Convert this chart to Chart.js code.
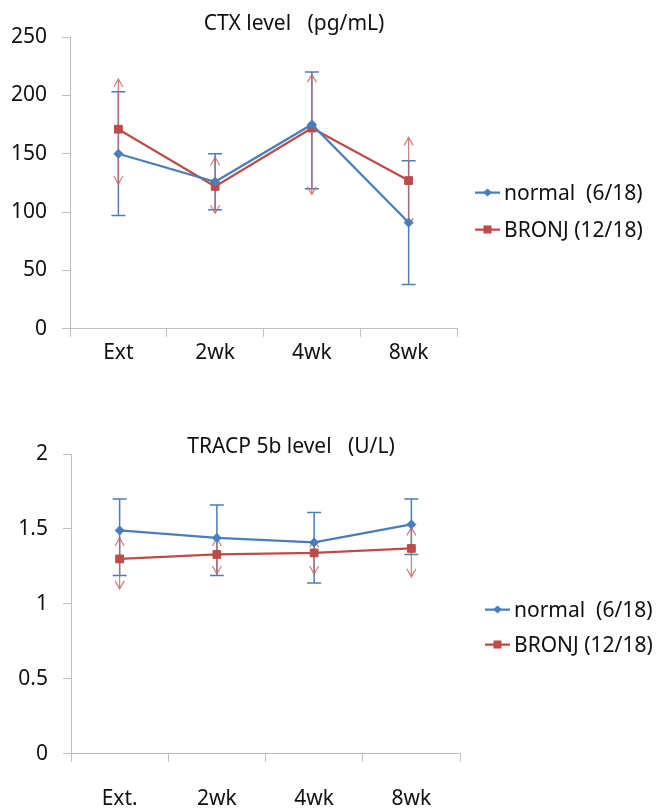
<!DOCTYPE html>
<html>
<head>
<meta charset="utf-8">
<script src="https://cdn.jsdelivr.net/npm/chart.js@4.4.1/dist/chart.umd.min.js"></script>
<style>
  body { margin: 0; background: #fff; font-family: "Noto Sans", sans-serif; color: #111; }
  #wrap { position: relative; width: 660px; height: 811px; overflow: hidden; }
  canvas { position: absolute; left: 0; }
  .title { position: absolute; font-size: 21px; white-space: pre; transform: translate(-50%, -50%); z-index: 2; }
  .row { position: absolute; display: flex; align-items: center; font-size: 21px; white-space: pre; line-height: 1; transform: translateY(-50%); }
  .row svg { margin-right: 4px; }
</style>
</head>
<body>
<div id="wrap">
  <canvas id="ctxChart" width="660" height="370" style="top:0"></canvas>
  <div class="title" style="left:294px;top:22px">CTX level   (pg/mL)</div>
  <div id="legendTop"></div>

  <canvas id="tracpChart" width="660" height="417" style="top:420px"></canvas>
  <div class="title" style="left:291px;top:445px">TRACP 5b level   (U/L)</div>
  <div id="legendBottom"></div>
</div>
<script>
// CTX (pg/mL)
const ctxLabels = ["Ext", "2wk", "4wk", "8wk"];
const ctxNormal = [150, 126, 175, 91];
const ctxNormalHi = [203, 150, 220, 144];
const ctxNormalLo = [97, 102, 120, 38];
const ctxBronj = [171, 122, 172, 127];
const ctxBronjHi = [214, 147, 218, 164];
const ctxBronjLo = [124, 99, 115, 88];
const ctxTicks = [0, 50, 100, 150, 200, 250];

// TRACP 5b (U/L)
const tracpLabels = ["Ext.", "2wk", "4wk", "8wk"];
const tracpNormal = [1.49, 1.44, 1.41, 1.53];
const tracpNormalHi = [1.70, 1.66, 1.61, 1.70];
const tracpNormalLo = [1.19, 1.19, 1.14, 1.33];
const tracpBronj = [1.30, 1.33, 1.34, 1.37];
const tracpBronjHi = [1.44, 1.44, 1.43, 1.51];
const tracpBronjLo = [1.10, 1.20, 1.20, 1.18];
const tracpTicks = [0, 0.5, 1, 1.5, 2];

const legendNames = ["normal  (6/18)", "BRONJ (12/18)"];

const BLUE = "#4a7ebb", RED = "#be4b48", RED_ERR = "rgba(205,100,96,0.85)", AXIS = "#bfbfbf";

// error bars: blue with flat caps, red with open arrow heads
const errorBars = {
  id: "errorBars",
  beforeDatasetsDraw(chart) {
    const c = chart.ctx, yS = chart.scales.y;
    chart.data.datasets.forEach((ds, i) => {
      const meta = chart.getDatasetMeta(i);
      c.save();
      c.strokeStyle = ds.errColor;
      c.lineWidth = ds.errWidth;
      meta.data.forEach((pt, j) => {
        const x = pt.x,
          top = yS.getPixelForValue(ds.hi[j]),
          bot = yS.getPixelForValue(ds.lo[j]);
        c.beginPath();
        c.moveTo(x, top);
        c.lineTo(x, bot);
        if (ds.errStyle === "cap") {
          c.moveTo(x - 7, top); c.lineTo(x + 7, top);
          c.moveTo(x - 7, bot); c.lineTo(x + 7, bot);
        } else {
          c.moveTo(x - 4.5, top + 8); c.lineTo(x, top); c.lineTo(x + 4.5, top + 8);
          c.moveTo(x - 4.5, bot - 8); c.lineTo(x, bot); c.lineTo(x + 4.5, bot - 8);
        }
        c.stroke();
      });
      c.restore();
    });
  }
};

function makeChart(id, labels, normal, nHi, nLo, bronj, bHi, bLo, ticks, pad, yWidth, labelPad) {
  return new Chart(document.getElementById(id), {
    type: "line",
    data: {
      labels: labels,
      datasets: [
        {
          label: legendNames[0], data: normal, hi: nHi, lo: nLo,
          borderColor: BLUE, backgroundColor: BLUE, borderWidth: 2.25,
          pointStyle: "rectRot", pointRadius: 4.5, pointBorderWidth: 1,
          errColor: BLUE, errWidth: 1.5, errStyle: "cap", order: 1
        },
        {
          label: legendNames[1], data: bronj, hi: bHi, lo: bLo,
          borderColor: RED, backgroundColor: RED, borderWidth: 2.25,
          pointStyle: "rect", pointRadius: 5.5, pointBorderWidth: 1,
          errColor: RED_ERR, errWidth: 1.2, errStyle: "arrow", order: 2
        }
      ]
    },
    options: {
      responsive: false,
      animation: false,
      layout: { padding: pad },
      plugins: { legend: { display: false }, title: { display: false }, tooltip: { enabled: false } },
      scales: {
        x: {
          offset: true,
          grid: { offset: true, drawOnChartArea: false, color: AXIS, tickLength: 8 },
          border: { color: AXIS },
          ticks: { color: "#111", padding: labelPad, font: { family: "Noto Sans", size: 21 } }
        },
        y: {
          min: ticks[0], max: ticks[ticks.length - 1],
          afterBuildTicks: (s) => { s.ticks = ticks.map(v => ({ value: v })); },
          afterFit: (s) => { s.width = yWidth; },
          grid: { drawOnChartArea: false, color: AXIS, tickLength: 8 },
          border: { color: AXIS },
          ticks: {
            color: "#111", padding: 15, font: { family: "Noto Sans", size: 21 },
            callback: (v) => String(v)
          }
        }
      }
    },
    plugins: [errorBars]
  });
}

makeChart("ctxChart", ctxLabels, ctxNormal, ctxNormalHi, ctxNormalLo,
  ctxBronj, ctxBronjHi, ctxBronjLo, ctxTicks,
  { top: 37, right: 203, left: 0, bottom: 0 }, 70, 4);
makeChart("tracpChart", tracpLabels, tracpNormal, tracpNormalHi, tracpNormalLo,
  tracpBronj, tracpBronjHi, tracpBronjLo, tracpTicks,
  { top: 34, right: 200, left: 0, bottom: 0 }, 71, 25);

// HTML legends with line + marker
function marker(color, shape) {
  const m = shape === "diamond"
    ? `<path d="M12.5 2 L17 6 L12.5 10 L8 6 Z" fill="${color}"/>`
    : `<rect x="8.5" y="2" width="8" height="8" fill="${color}"/>`;
  return `<svg width="25" height="12"><line x1="0" y1="6" x2="25" y2="6" stroke="${color}" stroke-width="2.25"/>${m}</svg>`;
}
function makeLegend(el, left, y1, y2) {
  el.innerHTML =
    `<div class="row" style="left:${left}px;top:${y1}px">${marker(BLUE, "diamond")}${legendNames[0]}</div>` +
    `<div class="row" style="left:${left}px;top:${y2}px">${marker(RED, "square")}${legendNames[1]}</div>`;
}
makeLegend(document.getElementById("legendTop"), 475, 192, 229);
makeLegend(document.getElementById("legendBottom"), 485, 609, 644);
</script>
</body>
</html>
